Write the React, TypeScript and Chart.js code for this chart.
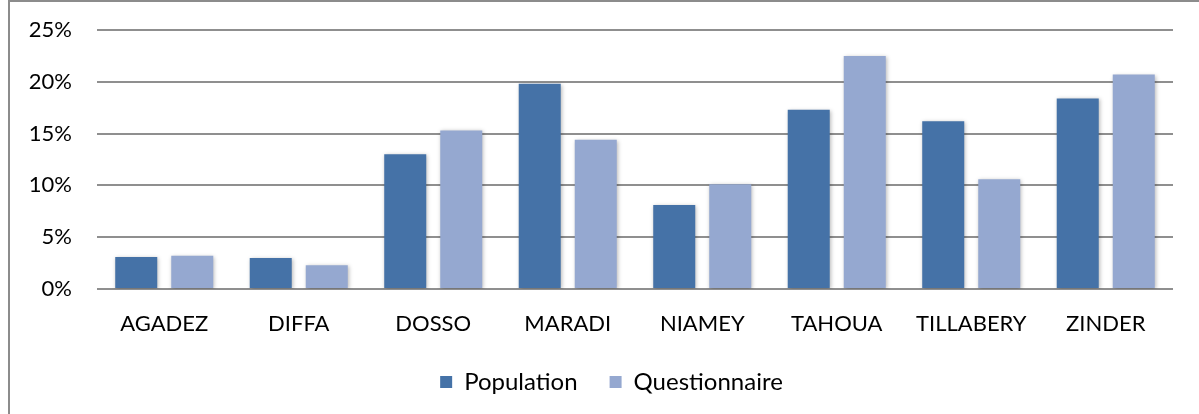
import React, { useEffect, useRef } from "react";
import { Chart, registerables } from "chart.js";

Chart.register(...registerables);

const categories = ["AGADEZ", "DIFFA", "DOSSO", "MARADI", "NIAMEY", "TAHOUA", "TILLABERY", "ZINDER"];
const populationValues = [3.1, 3.0, 13.0, 19.8, 8.1, 17.3, 16.2, 18.4];
const questionnaireValues = [3.2, 2.3, 15.3, 14.4, 10.1, 22.5, 10.6, 20.7];
const seriesNames = ["Population", "Questionnaire"];
const yTicks = [0, 5, 10, 15, 20, 25];

const FONT = "Lato, 'Open Sans', sans-serif";

const shadowPlugin = {
  id: "barShadow",
  beforeDatasetsDraw(chart: any) {
    const ctx = chart.ctx;
    ctx.save();
    ctx.shadowColor = "rgba(0,0,0,0.28)";
    ctx.shadowBlur = 4;
    ctx.shadowOffsetX = 1;
    ctx.shadowOffsetY = 1;
  },
  afterDatasetsDraw(chart: any) {
    chart.ctx.restore();
  },
};

const legendShiftPlugin = {
  id: "legendShift",
  afterLayout(chart: any) {
    if (chart.legend) {
      chart.legend.left += 25;
      chart.legend.right += 25;
    }
  },
};

export default function App() {
  const ref = useRef<HTMLCanvasElement | null>(null);

  useEffect(() => {
    if (!ref.current) return;
    const chart = new Chart(ref.current, {
      type: "bar",
      data: {
        labels: categories,
        datasets: [
          {
            label: seriesNames[0],
            data: populationValues,
            backgroundColor: "#4572A7",
            borderWidth: 0,
          },
          {
            label: seriesNames[1],
            data: questionnaireValues,
            backgroundColor: "#95A8D0",
            borderWidth: 0,
          },
        ],
      },
      options: {
        animation: false,
        responsive: false,
        maintainAspectRatio: false,
        layout: { padding: { left: 0, right: 26, top: 30, bottom: 10 } },
        datasets: {
          bar: { barPercentage: 0.75, categoryPercentage: 0.833 },
        },
        plugins: {
          legend: {
            position: "bottom",
            labels: {
              font: { family: FONT, size: 24 },
              color: "#000",
              boxWidth: 12,
              boxHeight: 12,
              padding: 32,
            },
          },
          tooltip: { enabled: false },
        },
        scales: {
          x: {
            grid: { display: false },
            border: { display: false },
            ticks: {
              font: { family: FONT, size: 22 },
              color: "#000",
              padding: 14,
              maxRotation: 0,
            },
            afterFit(scale: any) {
              scale.height = 49;
            },
          },
          y: {
            min: 0,
            max: 25,
            afterBuildTicks(scale: any) {
              scale.ticks = yTicks.map((v) => ({ value: v }));
            },
            grid: { color: "#8f8f8f", lineWidth: 2, drawTicks: false },
            border: { display: false },
            ticks: {
              font: { family: FONT, size: 22 },
              color: "#000",
              padding: 25,
              callback: (v: any) => v + "%",
            },
            afterFit(scale: any) {
              scale.width = 97;
              scale.paddingTop = 0;
              scale.paddingBottom = 0;
            },
          },
        },
      },
      plugins: [shadowPlugin, legendShiftPlugin],
    });
    return () => chart.destroy();
  }, []);

  return (
    <div style={{ position: "fixed", left: 0, top: 0, width: 1199, height: 414, background: "#fff", overflow: "hidden" }}>
      <div
        style={{
          position: "absolute",
          left: 8,
          top: 0,
          width: 1300,
          height: 500,
          border: "2px solid #8c8c8c",
          boxSizing: "border-box",
        }}
      />
      <canvas ref={ref} width={1199} height={414} style={{ position: "absolute", left: 0, top: 0 }} />
    </div>
  );
}
